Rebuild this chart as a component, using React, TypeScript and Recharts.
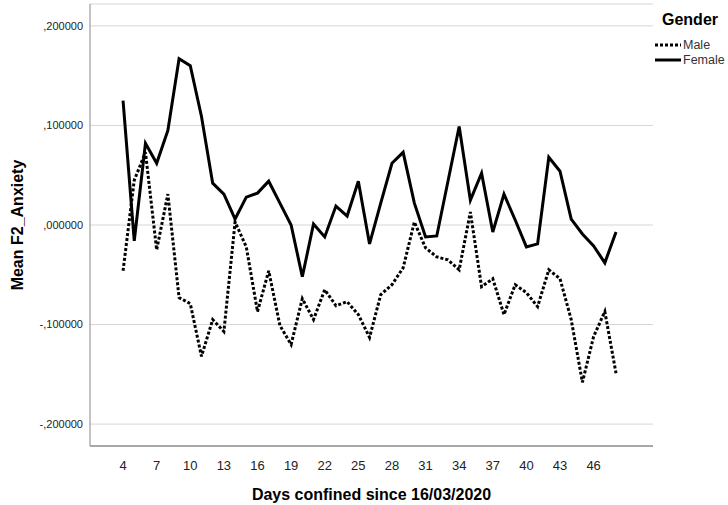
import { LineChart, Line, XAxis, YAxis, CartesianGrid, Legend } from 'recharts';

const days = [4, 5, 6, 7, 8, 9, 10, 11, 12, 13, 14, 15, 16, 17, 18, 19, 20, 21, 22, 23, 24, 25, 26,
  27, 28, 29, 30, 31, 32, 33, 34, 35, 36, 37, 38, 39, 40, 41, 42, 43, 44, 45, 46, 47, 48];

const male = [-0.046, 0.045, 0.073, -0.025, 0.031, -0.073, -0.079, -0.132, -0.095, -0.107, 0.003,
  -0.022, -0.087, -0.046, -0.101, -0.12, -0.074, -0.095, -0.065, -0.081, -0.077, -0.09, -0.113,
  -0.07, -0.06, -0.043, 0.003, -0.023, -0.032, -0.035, -0.045, 0.013, -0.062, -0.054, -0.09,
  -0.06, -0.068, -0.082, -0.045, -0.054, -0.095, -0.158, -0.112, -0.087, -0.149];

const female = [0.125, -0.016, 0.082, 0.062, 0.095, 0.167, 0.16, 0.109, 0.042, 0.031, 0.006,
  0.028, 0.032, 0.044, 0.022, 0.0, -0.052, 0.001, -0.012, 0.019, 0.009, 0.044, -0.019, 0.022,
  0.062, 0.073, 0.022, -0.012, -0.011, 0.044, 0.099, 0.025, 0.052, -0.007, 0.031, 0.005, -0.022,
  -0.019, 0.068, 0.054, 0.006, -0.009, -0.021, -0.038, -0.007];

const genders = ['Male', 'Female'];
const xTicks = [4, 7, 10, 13, 16, 19, 22, 25, 28, 31, 34, 37, 40, 43, 46];
const yTicks = [-0.2, -0.1, 0, 0.1, 0.2];

const FONT = 'Liberation Sans, Arial, sans-serif';
const DOTS = '3 2';

const rows = days.map((d, i) => ({ day: d, Male: male[i], Female: female[i] }));

// SPSS style: comma decimal, no leading zero
const fmtY = (v: number) => {
  const s = Math.abs(v).toFixed(6).replace(/^0\./, ',');
  return (v < 0 ? '-' : '') + s;
};

function GenderLegend({ payload }: any) {
  // keep series order (recharts sorts by name otherwise)
  const items = genders
    .map((g) => (payload || []).find((p: any) => p.value === g))
    .filter(Boolean);
  return (
    <div style={{ fontFamily: FONT }}>
      <div style={{ fontWeight: 'bold', fontSize: 16, marginLeft: 7, lineHeight: '18px' }}>Gender</div>
      <div style={{ marginTop: 8 }}>
        {items.map((p: any) => (
          <div key={p.value} style={{ display: 'flex', alignItems: 'center', height: 15 }}>
            <svg width={26} height={6}>
              <line x1={0} x2={26} y1={3} y2={3} stroke="#000" strokeWidth={3}
                strokeDasharray={p.value === 'Male' ? DOTS : undefined} />
            </svg>
            <span style={{ fontSize: 12.5, color: '#333', marginLeft: 2 }}>{p.value}</span>
          </div>
        ))}
      </div>
    </div>
  );
}

export default function App() {
  return (
    <div style={{ position: 'absolute', left: 0, top: 0 }}>
      <LineChart width={728} height={505} data={rows} margin={{ top: 4, right: 75, bottom: 0, left: 0 }}>
        <CartesianGrid vertical={false} stroke="#d6d6d6" />
        <XAxis
          dataKey="day"
          type="number"
          domain={[1.05, 51.3]}
          ticks={xTicks}
          allowDataOverflow
          height={59}
          tickLine={false}
          tickMargin={9}
          axisLine={{ stroke: '#666' }}
          tick={{ fontSize: 13, fill: '#222', fontFamily: FONT }}
          label={{
            content: ({ viewBox }: any) => (
              <text x={viewBox.x + viewBox.width / 2} y={viewBox.y + 54} textAnchor="middle"
                fontFamily={FONT} fontWeight="bold" fontSize={16} fill="#000">
                Days confined since 16/03/2020
              </text>
            ),
          }}
        />
        <YAxis
          type="number"
          domain={[-0.222, 0.222]}
          ticks={yTicks}
          allowDataOverflow
          width={90}
          tickFormatter={fmtY}
          tickLine={false}
          tickMargin={1}
          axisLine={{ stroke: '#888' }}
          tick={{ fontSize: 11, fill: '#222', fontFamily: FONT }}
          label={{
            content: ({ viewBox }: any) => {
              const cy = viewBox.y + viewBox.height / 2;
              return (
                <text x={23} y={cy} transform={`rotate(-90, 23, ${cy})`} textAnchor="middle"
                  fontFamily={FONT} fontWeight="bold" fontSize={16} fill="#000">
                  Mean F2_Anxiety
                </text>
              );
            },
          }}
        />
        <Legend
          layout="horizontal"
          verticalAlign="middle"
          content={<GenderLegend />}
          wrapperStyle={{ position: 'absolute', left: 655, top: 11, width: 73 }}
        />
        <Line type="linear" dataKey="Male" name="Male" stroke="#000" strokeWidth={3}
          strokeDasharray={DOTS} strokeLinejoin="miter" dot={false} activeDot={false}
          isAnimationActive={false} />
        <Line type="linear" dataKey="Female" name="Female" stroke="#000" strokeWidth={3}
          strokeLinejoin="miter" dot={false} activeDot={false} isAnimationActive={false} />
      </LineChart>
    </div>
  );
}
